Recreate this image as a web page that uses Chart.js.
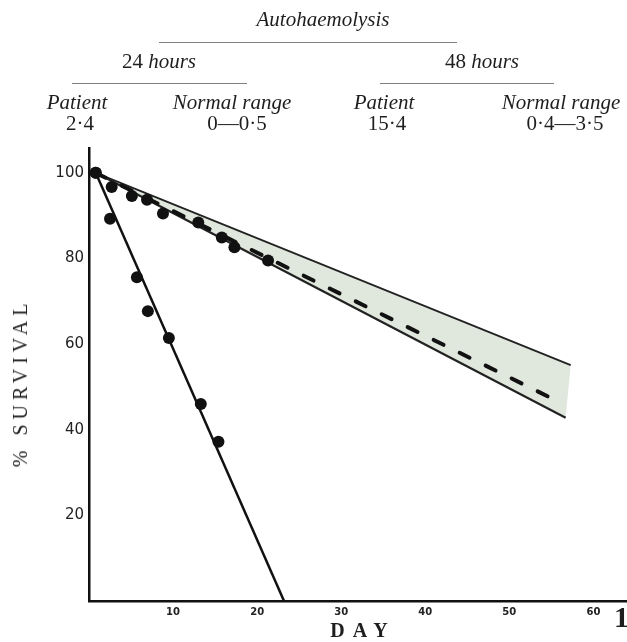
<!DOCTYPE html>
<html><head><meta charset="utf-8">
<script src="https://cdn.jsdelivr.net/npm/chart.js@4"></script>
<style>
body{margin:0;background:#fff;}
#wrap{position:relative;width:627px;height:642px;overflow:hidden;background:#fff;}
canvas{position:absolute;left:0;top:0;}
.t{position:absolute;font-family:"Liberation Serif",serif;font-size:21px;color:#1e1e1e;white-space:nowrap;transform:translateX(-50%);line-height:21px;}
.i{font-style:italic;}
.rule{position:absolute;height:0;border-top:1.5px solid #808080;}
</style></head><body>
<div id="wrap">
<canvas id="c" width="627" height="642"></canvas>
<div class="t i" style="left:323px;top:9px">Autohaemolysis</div>
<div class="rule" style="left:159px;width:298px;top:42px"></div>
<div class="t" style="left:159px;top:51px">24 <span class="i">hours</span></div>
<div class="rule" style="left:72px;width:175px;top:83px"></div>
<div class="t" style="left:482px;top:51px">48 <span class="i">hours</span></div>
<div class="rule" style="left:380px;width:174px;top:83px"></div>
<div class="t i" style="left:77px;top:92px">Patient</div>
<div class="t" style="left:80px;top:113px">2·4</div>
<div class="t i" style="left:232px;top:92px">Normal range</div>
<div class="t" style="left:237px;top:113px">0—0·5</div>
<div class="t i" style="left:384px;top:92px">Patient</div>
<div class="t" style="left:387px;top:113px">15·4</div>
<div class="t i" style="left:561px;top:92px">Normal range</div>
<div class="t" style="left:565px;top:113px">0·4—3·5</div>
<div class="t" style="left:20px;top:373px;transform:translateX(-50%) rotate(-90deg);letter-spacing:5px;font-size:20px;line-height:20px;">% SURVIVAL</div>
<div class="t" style="left:363px;top:620px;letter-spacing:8px;font-size:20px;line-height:20px;font-weight:bold;">DAY</div>
<div class="t" style="left:614px;top:602px;font-size:30px;line-height:30px;font-weight:bold;transform:none;">1</div>
</div>
<script>
// Patient's cells (steep line)
const patientDays = [0.8, 2.5, 5.7, 7.0, 9.5, 13.3, 15.4];
const patientSurvival = [100, 89.3, 75.6, 67.7, 61.4, 46.0, 37.2];
const patientFitDays = [0.8, 23.2];
const patientFitSurvival = [100, 0];
// Upper set of points
const normalDays = [0.8, 2.7, 5.1, 6.9, 8.8, 13.0, 15.8, 17.3, 21.3];
const normalSurvival = [100, 96.7, 94.6, 93.7, 90.5, 88.4, 84.9, 82.6, 79.5];
// Normal range band and mean
const rangeUpperDays = [0.8, 57.3];
const rangeUpperSurvival = [100, 55.1];
const rangeLowerDays = [0.8, 56.7];
const rangeLowerSurvival = [100, 42.8];
const meanDays = [0.8, 55.7];
const meanSurvival = [100, 46.7];
// Tick labels
const xTicks = [10, 20, 30, 40, 50, 60];
const yTicks = [20, 40, 60, 80, 100];

const pts = (xs, ys) => xs.map((x, i) => ({x, y: ys[i]}));
const bandPolygon = pts(rangeUpperDays, rangeUpperSurvival)
  .concat(pts(rangeLowerDays, rangeLowerSurvival).reverse());

new Chart(document.getElementById('c'), {
  type: 'scatter',
  data: {
    datasets: [
      {label: 'Patient', data: pts(patientDays, patientSurvival), pointRadius: 6, pointBackgroundColor: '#111', pointBorderWidth: 0, showLine: false},
      {label: 'Upper points', data: pts(normalDays, normalSurvival), pointRadius: 6, pointBackgroundColor: '#111', pointBorderWidth: 0, showLine: false},
      {label: 'Patient fit', data: pts(patientFitDays, patientFitSurvival), showLine: true, pointRadius: 0, borderColor: '#111', borderWidth: 2.5},
      {label: 'Mean', data: pts(meanDays, meanSurvival), showLine: true, pointRadius: 0, borderColor: '#111', borderWidth: 4, borderDash: [11, 18], borderCapStyle: 'round'},
      {label: 'Range upper', data: pts(rangeUpperDays, rangeUpperSurvival), showLine: true, pointRadius: 0, borderColor: '#222', borderWidth: 1.8},
      {label: 'Range lower', data: pts(rangeLowerDays, rangeLowerSurvival), showLine: true, pointRadius: 0, borderColor: '#222', borderWidth: 2.2},
      {label: 'Normal range', data: bandPolygon, showLine: true, pointRadius: 0, borderWidth: 0, borderColor: 'rgba(0,0,0,0)', fill: 'shape', backgroundColor: '#e0e7dc'}
    ]
  },
  options: {
    responsive: false,
    animation: false,
    devicePixelRatio: 1,
    layout: {autoPadding: false, padding: {top: 148, right: 0, left: 0, bottom: 0}},
    plugins: {legend: {display: false}, tooltip: {enabled: false}},
    scales: {
      x: {
        type: 'linear', min: 0, max: 64,
        grid: {display: false, drawTicks: false},
        border: {display: true, color: '#111', width: 2.5},
        afterBuildTicks: s => { s.ticks = xTicks.map(v => ({value: v})); },
        afterFit: s => { s.height = 41; },
        ticks: {padding: 5, color: '#222', font: {family: 'DejaVu Sans', size: 10, weight: 'bold'}}
      },
      y: {
        type: 'linear', min: 0, max: 105.8,
        grid: {display: false, drawTicks: false},
        border: {display: true, color: '#111', width: 2.5},
        afterBuildTicks: s => { s.ticks = yTicks.map(v => ({value: v})); },
        afterFit: s => { s.width = 89; },
        ticks: {padding: 5, color: '#222', font: {family: 'DejaVu Sans', size: 15}}
      }
    }
  }
});
</script>
</body></html>
